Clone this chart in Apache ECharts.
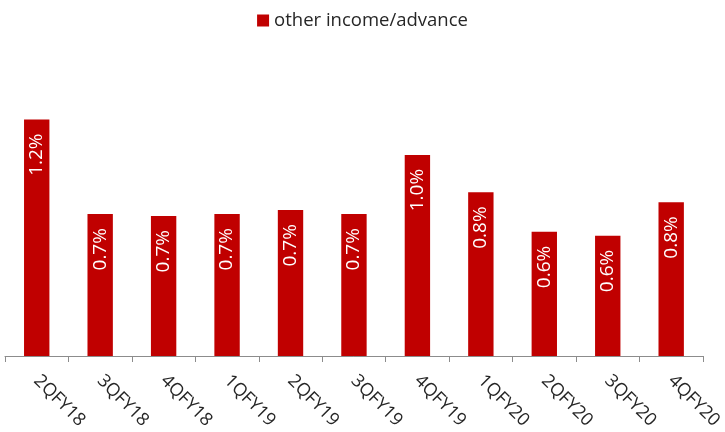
<!DOCTYPE html>
<html>
<head>
<meta charset="utf-8">
<script src="https://cdn.jsdelivr.net/npm/echarts@6/dist/echarts.min.js"></script>
<style>
  html, body { margin: 0; padding: 0; background: #fff; }
  #chart { width: 725px; height: 432px; }
</style>
</head>
<body>
<div id="chart"></div>
<script>
var categories = ['2QFY18', '3QFY18', '4QFY18', '1QFY19', '2QFY19', '3QFY19', '4QFY19', '1QFY20', '2QFY20', '3QFY20', '4QFY20']
var values = [1.20, 0.72, 0.71, 0.72, 0.74, 0.72, 1.02, 0.83, 0.63, 0.61, 0.78]
var seriesName = 'other income/advance'

var chart = echarts.init(document.getElementById('chart'))

var option = {
    animation: false,
    legend: {
        top: 6,
        left: 'center',
        itemWidth: 12,
        itemHeight: 12,
        icon: 'rect',
        itemGap: 5,
        textStyle: {
            fontFamily: 'Open Sans',
            fontSize: 18.5,
            color: '#262626'
        },
        data: [seriesName]
    },
    grid: {
        left: 5,
        right: 20,
        top: 80,
        bottom: 76,
        containLabel: false
    },
    xAxis: {
        type: 'category',
        data: categories,
        axisLine: { lineStyle: { color: '#8c8c8c', width: 1 } },
        axisTick: { show: true, length: 6, lineStyle: { color: '#8c8c8c' } },
        axisLabel: {
            rotate: -45,
            margin: 22,
            interval: 0,
            fontFamily: 'Open Sans',
            fontSize: 18,
            color: '#262626'
        }
    },
    yAxis: {
        type: 'value',
        min: 0,
        max: 1.4,
        show: false,
        splitLine: { show: false }
    },
    series: [
        {
            name: seriesName,
            type: 'bar',
            data: values,
            barWidth: '40%',
            itemStyle: { color: '#c00000' },
            label: {
                show: true,
                position: 'insideTop',
                rotate: 90,
                align: 'right',
                verticalAlign: 'middle',
                distance: 14,
                fontFamily: 'Open Sans',
                fontSize: 19,
                color: '#ffffff',
                formatter: function (p) {
                    return p.value.toFixed(1) + '%'
                }
            }
        }
    ]
}

chart.setOption(option)
</script>
</body>
</html>
